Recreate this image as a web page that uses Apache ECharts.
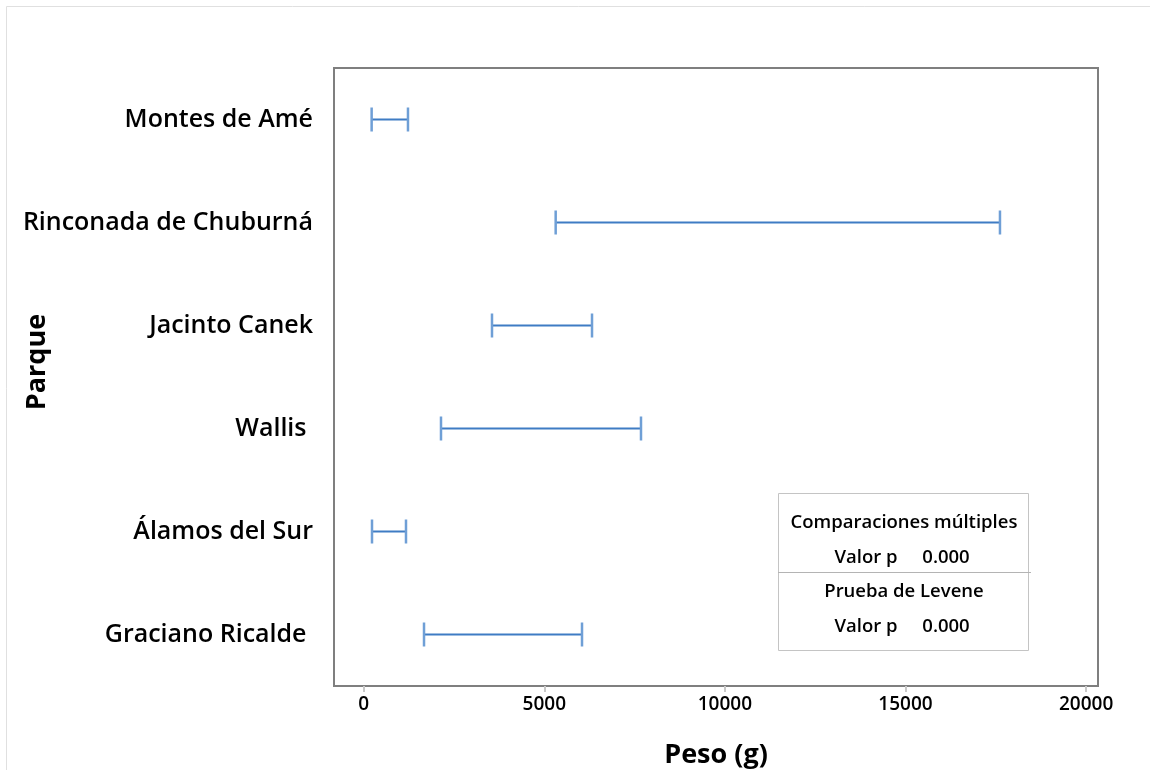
<!DOCTYPE html>
<html>
<head>
<meta charset="utf-8">
<script src="https://cdn.jsdelivr.net/npm/echarts@6/dist/echarts.min.js"></script>
<style>
  html, body { margin: 0; padding: 0; background: #fff; }
  #chart { width: 1150px; height: 770px; }
</style>
</head>
<body>
<div id="chart"></div>
<script>
// Parks, listed top to bottom
const parques = ['Montes de Amé', 'Rinconada de Chuburná', 'Jacinto Canek', 'Wallis ', 'Álamos del Sur', 'Graciano Ricalde '];
// Interval bounds for the weight (g), one per park
const limiteInferior = [220, 5315, 3552, 2140, 230, 1670];
const limiteSuperior = [1226, 17615, 6321, 7677, 1171, 6044];
// Value-axis tick labels
const ticksPeso = [0, 5000, 10000, 15000, 20000];
// Test summary box
const pruebas = [
  { nombre: 'Comparaciones múltiples', valorP: '0.000' },
  { nombre: 'Prueba de Levene', valorP: '0.000' }
];

const FONT = '"Open Sans", "Noto Sans", sans-serif';
const intervalos = parques.map((p, i) => [limiteInferior[i], limiteSuperior[i], i]);

const chart = echarts.init(document.getElementById('chart'));

const boxX = 778, boxY = 493, boxW = 250, boxH = 157;

const option = {
  backgroundColor: '#fff',
  animation: false,
  grid: {
    left: 334, top: 68, right: 52, bottom: 84,
    containLabel: false,
    outerBoundsMode: 'none',
    show: true, borderColor: '#7f7f7f', borderWidth: 2, backgroundColor: 'transparent'
  },
  xAxis: {
    type: 'value',
    min: -822, max: 20329,
    name: 'Peso (g)',
    nameLocation: 'middle',
    nameGap: 56,
    nameMoveOverlap: false,
    nameTextStyle: { fontFamily: FONT, fontWeight: 700, fontSize: 27, color: '#000' },
    axisLine: { show: false },
    splitLine: { show: false },
    axisTick: { show: true, length: 6, customValues: ticksPeso, lineStyle: { color: '#c8c8c8', width: 2 } },
    axisLabel: {
      customValues: ticksPeso, margin: 9,
      formatter: v => String(v),
      fontFamily: FONT, fontWeight: 600, fontSize: 19, color: '#000'
    }
  },
  yAxis: {
    type: 'category',
    data: parques,
    inverse: true,
    name: 'Parque',
    nameLocation: 'middle',
    nameGap: 283,
    nameMoveOverlap: false,
    nameRotate: 90,
    nameTextStyle: { fontFamily: FONT, fontWeight: 700, fontSize: 27, color: '#000', padding: [0, 0, 0, 30] },
    axisLine: { show: false },
    axisTick: { show: false },
    splitLine: { show: false },
    axisLabel: { margin: 21, fontFamily: FONT, fontWeight: 600, fontSize: 25, color: '#000' }
  },
  series: [{
    type: 'custom',
    data: intervalos,
    encode: { x: [0, 1], y: 2 },
    renderItem: function (params, api) {
      const cat = api.value(2);
      const a = api.coord([api.value(0), cat]);
      const b = api.coord([api.value(1), cat]);
      const h = 12;
      return {
        type: 'group',
        children: [
          { type: 'line', shape: { x1: a[0], y1: a[1], x2: b[0], y2: b[1] },
            style: { stroke: '#3f7cc4', lineWidth: 2 } },
          { type: 'line', shape: { x1: a[0], y1: a[1] - h, x2: a[0], y2: a[1] + h },
            style: { stroke: '#6f9fd6', lineWidth: 2.5 } },
          { type: 'line', shape: { x1: b[0], y1: b[1] - h, x2: b[0], y2: b[1] + h },
            style: { stroke: '#6f9fd6', lineWidth: 2.5 } }
        ]
      };
    }
  }],
  graphic: [
    // light outer frame
    { type: 'rect', shape: { x: 6.5, y: 6.5, width: 1300, height: 1000 },
      style: { fill: 'none', stroke: '#e0e0e0', lineWidth: 1 }, silent: true },
    // test summary box
    { type: 'rect', shape: { x: boxX + 0.5, y: boxY + 0.5, width: boxW, height: boxH },
      style: { fill: '#fff', stroke: '#c4c4c4', lineWidth: 1 }, z: 10 },
    { type: 'line', shape: { x1: boxX, y1: 572.5, x2: boxX + boxW + 3, y2: 572.5 },
      style: { stroke: '#b4b4b4', lineWidth: 1 }, z: 11 },
    ...pruebas.flatMap((t, i) => {
      const y0 = boxY + 30 + i * 69;
      return [
        { type: 'text', x: boxX + boxW / 2 + 1, y: y0, z: 12,
          style: { text: t.nombre, align: 'center', verticalAlign: 'middle',
                   font: '600 18.5px ' + FONT, fill: '#000' } },
        { type: 'text', x: 866, y: y0 + 35, z: 12,
          style: { text: 'Valor p', align: 'center', verticalAlign: 'middle',
                   font: '600 18.5px ' + FONT, fill: '#000' } },
        { type: 'text', x: 946, y: y0 + 35, z: 12,
          style: { text: t.valorP, align: 'center', verticalAlign: 'middle',
                   font: '600 18.5px ' + FONT, fill: '#000' } }
      ];
    })
  ]
};

chart.setOption(option);
</script>
</body>
</html>
